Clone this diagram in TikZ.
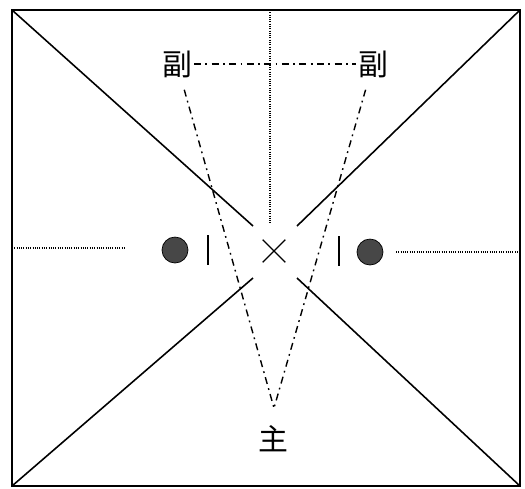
\documentclass[tikz,border=0pt]{standalone}
\usepackage{fontspec}
\newfontfamily\cjk{Noto Sans CJK SC}
\usepackage{tikz}
\usetikzlibrary{shapes.misc}

\begin{document}
\begin{tikzpicture}[x=0.02cm,y=-0.02cm,
frame/.style={line width=1.1pt},
diag/.style={line width=0.9pt},
dotline/.style={line width=1pt,dash pattern=on 0.5pt off 0.8pt},
chain/.style={line width=0.8pt,dash pattern=on 4pt off 2.5pt on 1pt off 2.5pt},
ball/.style={circle,draw,fill=black!72,minimum size=5.2mm,inner sep=0pt},
lab/.style={font=\cjk\fontsize{17}{17}\selectfont,inner sep=1pt}]
\useasboundingbox (0,0) rectangle (525,488);
% outer frame
\coordinate (tl) at (12,10);
\coordinate (tr) at (520,10);
\coordinate (bl) at (12,486);
\coordinate (br) at (520,486);
\draw[frame] (tl) rectangle (br);
% diagonals, broken round the centre
\coordinate (c1) at (253,226);
\coordinate (c2) at (297,226);
\coordinate (c3) at (253,278);
\coordinate (c4) at (297,278);
\draw[diag] (tl)--(c1);
\draw[diag] (tr)--(c2);
\draw[diag] (bl)--(c3);
\draw[diag] (br)--(c4);
% centre mark and the two balls
\node[draw,cross out,minimum size=4.3mm,inner sep=0pt,line width=0.7pt] (x) at (274,251) {};
\node[ball] (ballL) at (175,250) {};
\node[ball] (ballR) at (370,252) {};
\coordinate (barLt) at (208,235);
\coordinate (barLb) at (208,265);
\coordinate (barRt) at (339,236);
\coordinate (barRb) at (339,266);
\draw[line width=0.7pt] (barLt)--(barLb);
\draw[line width=0.7pt] (barRt)--(barRb);
% dotted guide lines
\coordinate (topm) at (270,10);
\coordinate (midm) at (270,224);
\coordinate (leftm) at (12,248);
\coordinate (leftd) at (125,248);
\coordinate (rightd) at (396,252);
\coordinate (rightm) at (520,252);
\draw[dotline] (topm)--(midm);
\draw[dotline] (leftm)--(leftd);
\draw[dotline] (rightd)--(rightm);
% labels
\node[lab] (fuL) at (177,64) {副};
\node[lab] (fuR) at (373,64) {副};
\node[lab] (zhu) at (273,439) {主};
\coordinate (apex) at (274,408);
\draw[chain] (fuL)--(fuR);
\draw[chain,shorten <=6pt] (fuL)--(apex);
\draw[chain,shorten <=6pt] (fuR)--(apex);
\end{tikzpicture}
\end{document}
